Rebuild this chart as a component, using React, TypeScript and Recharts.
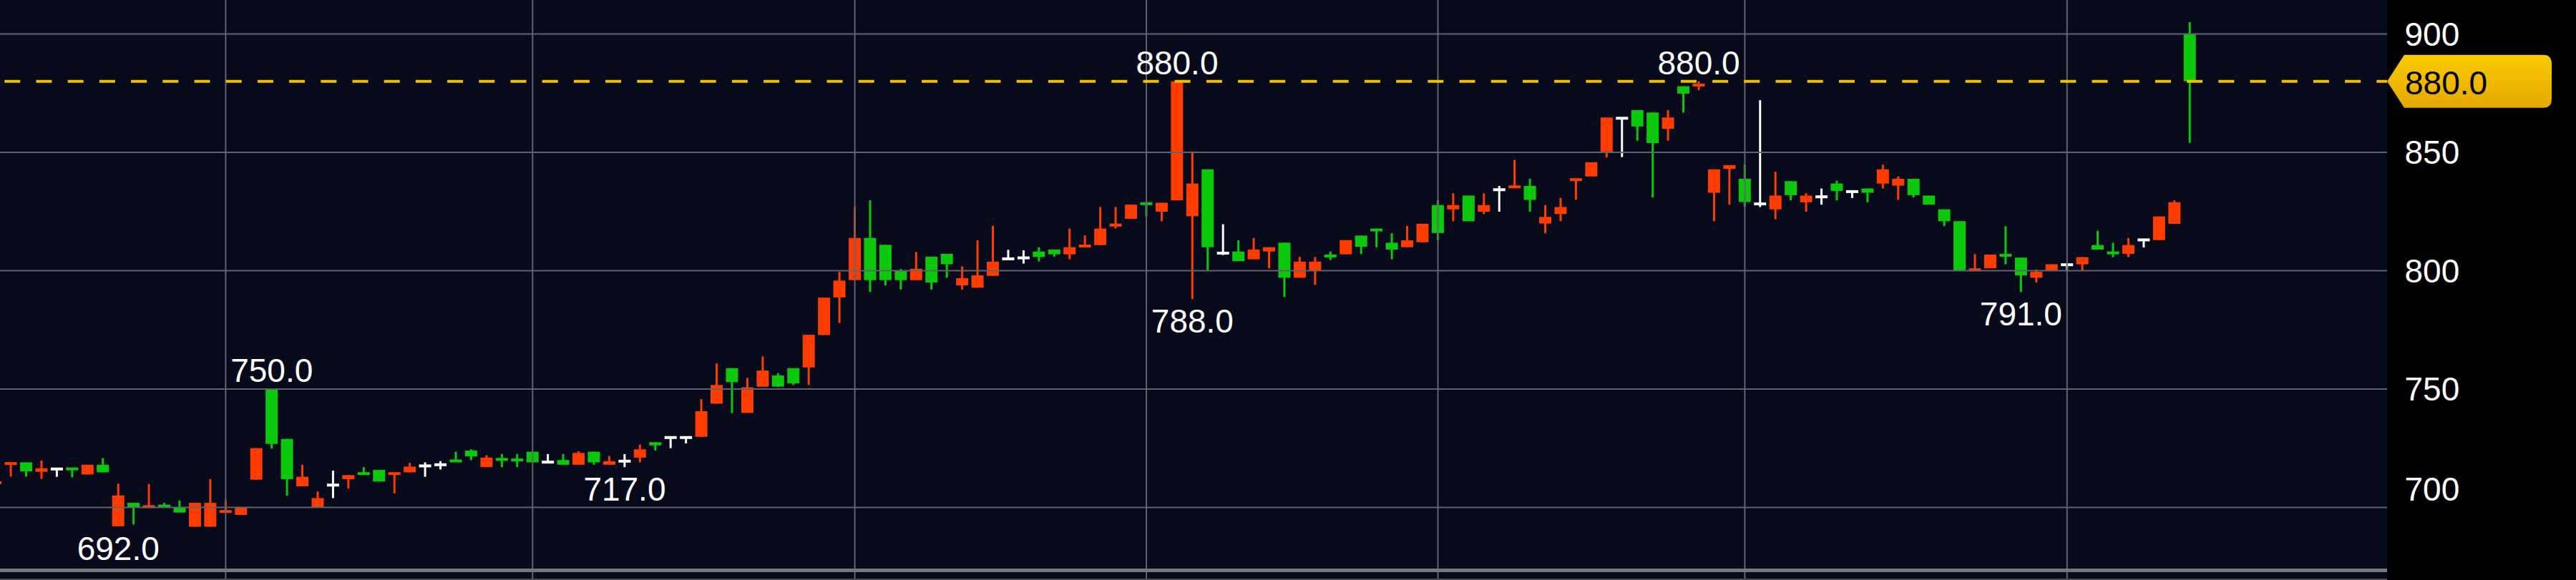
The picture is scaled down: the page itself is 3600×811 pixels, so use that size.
import React from 'react';
import {
  ComposedChart,
  Bar,
  XAxis,
  YAxis,
  ReferenceLine,
  ReferenceDot
} from 'recharts';

// OHLC per candle (first candle is cut by the left edge)
const opens = [
  709.8, 718, 719, 715, 716.2, 716.5, 713.9, 718, 692, 701.9,
  700, 700.9, 699.9, 691.8, 691.8, 698, 696.8, 711.7, 750, 728.9,
  708.9, 700, 709.4, 711.9, 714.6, 715.8, 713.9, 714.8, 717.5, 718,
  720, 724, 717, 720.5, 720.2, 723.5, 719.1, 720, 718, 723.5,
  718, 719.5, 721, 727.5, 729.5, 729.5, 729.8, 743.8, 758.8, 739.9,
  751, 755.7, 758.8, 759.1, 772.8, 788.7, 796, 813.8, 810.9, 800,
  796, 805.9, 807.1, 793.8, 792.8, 797.8, 805, 805.4, 808.1, 808.9,
  806.9, 809.9, 810.8, 818.6, 821.9, 828.7, 824.9, 829.7, 823, 842.8,
  807.4, 808.1, 804.8, 808.1, 811.8, 797, 800, 806.8, 806.9, 814.8,
  817.6, 811.8, 809.9, 812, 827.7, 825.9, 831.7, 824.9, 834.2, 835,
  835.8, 819.9, 823.9, 838.1, 839.8, 849.9, 864.4, 867.8, 866.8, 859.9,
  877.9, 878, 832.9, 843, 838.8, 828.2, 825.9, 837.8, 828.9, 831.2,
  836.8, 833.4, 834.7, 836.8, 835.9, 838.8, 831.7, 825.9, 820.9, 800,
  801, 807, 805.5, 797, 800, 802.5, 802.7, 810.8, 808, 807.1,
  813, 812.9, 819.8, 900
];
const highs = [
  712, 719, 719, 719.8, 716.5, 716.5, 718, 720.8, 710, 701.9,
  709.9, 701.9, 702.9, 701.9, 711.9, 702.9, 699.9, 725, 750, 728.9,
  718, 706.7, 715.5, 713.6, 717, 715.8, 714.6, 718.8, 719, 719.5,
  723.5, 724.5, 722, 722.5, 722.5, 723.5, 722.5, 722.5, 723.7, 723.5,
  721.7, 722.5, 726.5, 727.5, 729.5, 729.5, 745.7, 760.8, 758.8, 754.7,
  763.8, 756.7, 758.8, 772.9, 788.6, 799.5, 826.9, 829.7, 810.9, 800.7,
  807.9, 805.9, 807.1, 801.8, 812.8, 819, 808.8, 808.6, 809.9, 808.9,
  817.8, 814.9, 826.9, 826.9, 827.9, 828.7, 828.7, 880, 850, 842.8,
  819.6, 812.8, 813.8, 809.9, 811.8, 805.8, 805.8, 808.1, 812.9, 814.8,
  817.6, 815.8, 818.9, 819.8, 829.7, 832.7, 831.7, 832.7, 835.8, 846.8,
  838.8, 827.7, 830.7, 838.8, 845.8, 864.7, 864.7, 867.8, 866.8, 867.8,
  877.9, 880, 842.8, 844.6, 844.8, 872, 841.8, 837.8, 832.7, 834.7,
  838, 833.8, 834.7, 844.8, 839.8, 838.8, 831.7, 825.9, 820.9, 807,
  806.8, 818.8, 805.5, 800.5, 802.7, 802.7, 805.7, 816.8, 811.8, 813.8,
  813.5, 822.9, 829.7, 905
];
const lows = [
  709, 713, 713, 712, 712.9, 712.7, 713.9, 714.8, 692, 692.8,
  700, 699.8, 697.8, 691.8, 691.8, 697.8, 696.8, 711.7, 724.8, 704.9,
  708.9, 700, 703.9, 707.9, 713.9, 710.9, 705.9, 714.8, 712.9, 716,
  719.2, 720, 717, 717, 717, 719, 718.8, 718, 718, 718,
  718, 717, 719, 724, 725, 727, 729.8, 743.8, 739.8, 739.9,
  751, 751, 751.7, 751.7, 772.8, 777.9, 796, 791, 793.8, 792,
  796, 792, 797, 792, 792.8, 797.8, 804.7, 803, 803.9, 805.9,
  804.8, 809.9, 810.8, 817.8, 821.9, 822.9, 820.9, 829.7, 788, 800,
  806.6, 804, 804.8, 801, 788.9, 797, 794, 804.5, 806.9, 807,
  809.9, 804.8, 809.9, 812, 812.9, 820.9, 820.9, 823.9, 824.9, 835,
  824.9, 815.8, 820.9, 829.9, 839.8, 847.8, 848, 854.9, 830.9, 854.9,
  866.8, 876.2, 820.9, 827.9, 827, 826.9, 821.7, 829.7, 824.9, 827.9,
  829.7, 830.7, 828.9, 834.7, 829.9, 830.9, 827.9, 818.8, 800, 800,
  801, 802.7, 791, 795, 800, 800, 800, 808.9, 805.7, 805.7,
  809.8, 812.9, 819.8, 854
];
const closes = [
  711, 719, 715.2, 716.5, 716.2, 716, 718, 714.8, 705, 700.1,
  700.6, 700.2, 697.8, 701.9, 701.9, 698.5, 699.9, 725, 726.8, 711.9,
  712.9, 703.9, 709.4, 713.6, 713.9, 710.9, 714.6, 717.2, 717.5, 718,
  719.2, 721.5, 721, 720, 719.8, 719, 719.1, 718, 723, 719,
  719.5, 719.5, 724.5, 726.2, 729.5, 729.5, 740.6, 751.7, 752.9, 750.7,
  757.8, 751, 752.4, 772.9, 788.6, 795.8, 813.8, 796, 796, 796,
  800.8, 795, 802.7, 796.8, 798, 803.8, 805, 805.4, 805.8, 806.9,
  809.9, 810.9, 817.8, 819.9, 827.9, 827.9, 828.7, 880, 836.8, 809.9,
  807.4, 804, 808.9, 809.9, 797, 803.8, 803.8, 805.6, 812.9, 810.1,
  816.8, 808.9, 812.8, 819.8, 815.9, 827.7, 820.9, 827.7, 834.2, 835.8,
  829.9, 822.7, 826.9, 838.8, 845.8, 864.7, 864.4, 860.9, 853.9, 864.7,
  874.8, 878.8, 842.8, 844.6, 829, 828.2, 831.7, 831.9, 831.7, 831.2,
  833.7, 833.4, 832.9, 842.8, 838.8, 831.9, 827.9, 820.9, 800, 800.7,
  806.8, 806, 798, 799.5, 802.7, 802.5, 805.7, 808.9, 807, 810.8,
  813, 822.9, 828.9, 880
];

// marked extremes: candle index and which end is labelled
const noteIndex = [18, 8, 41, 77, 78, 111, 132];
const noteSide = ['high', 'low', 'low', 'high', 'low', 'high', 'low'];

// candles where the vertical session lines fall
const dayBreaks = [15, 35, 56, 75, 94, 114, 135];

const priceTicks = [700, 750, 800, 850, 900];
const priceDomain = [669.3, 914.35];

const RED = '#ff3c00';
const GREEN = '#0cc80c';
const WHITE = '#ffffff';
const GRID = '#62636d';
const GOLD = '#f2bf00';
const FONT = '"Liberation Sans", Arial, Helvetica, sans-serif';

const CHART_W = 3618;
const CHART_H = 811;
const AXIS_W = 265;
const PLOT_RIGHT = CHART_W - AXIS_W;

const data = opens.map((o, i) => ({
  i: String(i),
  o,
  h: highs[i],
  l: lows[i],
  c: closes[i],
  range: [lows[i], highs[i]]
}));

const Candle = (props: any) => {
  const { x, y, width, height, payload } = props;
  const { o, h, l, c } = payload;
  const top0 = Math.min(y, y + height);
  const hgt = Math.abs(height);
  const span = h - l;
  const py = (v: number) => (span > 0 ? top0 + ((h - v) / span) * hgt : top0);
  const cx = x + width / 2;
  const color = c > o ? RED : c < o ? GREEN : WHITE;
  let top = py(Math.max(o, c));
  let bot = py(Math.min(o, c));
  if (bot - top < 4) {
    const m = (top + bot) / 2;
    top = m - 2;
    bot = m + 2;
  }
  return (
    <g>
      <rect x={cx - 1.5} y={top0} width={3} height={hgt} fill={color} />
      <rect x={cx - 8.5} y={top} width={17} height={bot - top} fill={color} />
    </g>
  );
};

const PriceTick = ({ y, payload }: any) => (
  <text
    x={PLOT_RIGHT + 24.5}
    y={payload.value === 700 ? y - 26 : y}
    dy={16.5}
    fill="#ffffff"
    fontSize={46}
    fontFamily={FONT}
    textAnchor="start"
  >
    {payload.value}
  </text>
);

const PriceTag = (props: any) => {
  const vb = props.viewBox || {};
  const tx = vb.x + vb.width;
  const ty = vb.y;
  const d = `M${tx},${ty} L${tx + 24},${ty - 37} L${tx + 218},${ty - 37} Q${tx + 230},${ty - 37} ${tx + 230},${ty - 25} L${tx + 230},${ty + 25} Q${tx + 230},${ty + 37} ${tx + 218},${ty + 37} L${tx + 24},${ty + 37} Z`;
  return (
    <g>
      <defs>
        <linearGradient id="tagFill" x1="0" y1="0" x2="0" y2="1">
          <stop offset="0%" stopColor="#fbcb00" />
          <stop offset="100%" stopColor="#e4a800" />
        </linearGradient>
      </defs>
      <path d={d} fill="url(#tagFill)" />
      <text x={tx + 25} y={ty + 18} fill="#000000" fontSize={46} fontFamily={FONT}>
        {closes[closes.length - 1].toFixed(1)}
      </text>
    </g>
  );
};

const App: React.FC = () => {
  return (
    <div style={{ position: 'absolute', left: 0, top: 0, width: 3600, height: 811, overflow: 'hidden', background: '#000' }}>
      {/* plot background, the price scale panel stays black */}
      <div style={{ position: 'absolute', left: 0, top: 0, width: 3335.5, height: 811, background: '#070a1a' }} />
      <div style={{ position: 'absolute', left: -17.5, top: 0 }}>
        <ComposedChart
          width={CHART_W}
          height={CHART_H}
          data={data}
          margin={{ top: 0, right: 0, bottom: 0, left: 0 }}
        >
          <XAxis dataKey="i" type="category" hide padding={{ left: 0, right: 265 }} />
          <YAxis
            orientation="right"
            width={AXIS_W}
            type="number"
            domain={priceDomain}
            ticks={priceTicks}
            allowDataOverflow
            axisLine={false}
            tickLine={false}
            tick={<PriceTick />}
          />
          {priceTicks.map(v => (
            <ReferenceLine key={`h${v}`} y={v} stroke={GRID} strokeWidth={2} />
          ))}
          {dayBreaks.map(k => (
            <ReferenceLine key={`v${k}`} x={String(k)} stroke={GRID} strokeWidth={2} />
          ))}
          <ReferenceLine
            y={closes[closes.length - 1]}
            stroke={GOLD}
            strokeWidth={4}
            strokeDasharray="22 22.2"
            strokeDashoffset={7.3}
            label={<PriceTag />}
          />
          <Bar dataKey="range" shape={<Candle />} isAnimationActive={false} />
          {noteIndex.map((k, n) => {
            const top = noteSide[n] === 'high';
            const v = top ? highs[k] : lows[k];
            return (
              <ReferenceDot
                key={n}
                x={String(k)}
                y={v}
                r={0}
                ifOverflow="visible"
                shape={(p: any) => (
                  <text
                    x={p.cx}
                    y={top ? p.cy - 10 : p.cy + 47}
                    fill="#ffffff"
                    fontSize={46}
                    fontFamily={FONT}
                    textAnchor="middle"
                  >
                    {v.toFixed(1)}
                  </text>
                )}
              />
            );
          })}
        </ComposedChart>
      </div>
      <div style={{ position: 'absolute', left: 0, top: 795, width: 3336, height: 5, background: '#76767e' }} />
      <div style={{ position: 'absolute', left: 0, top: 809, width: 3336, height: 2, background: '#4b4b55' }} />
    </div>
  );
};

export default App;
